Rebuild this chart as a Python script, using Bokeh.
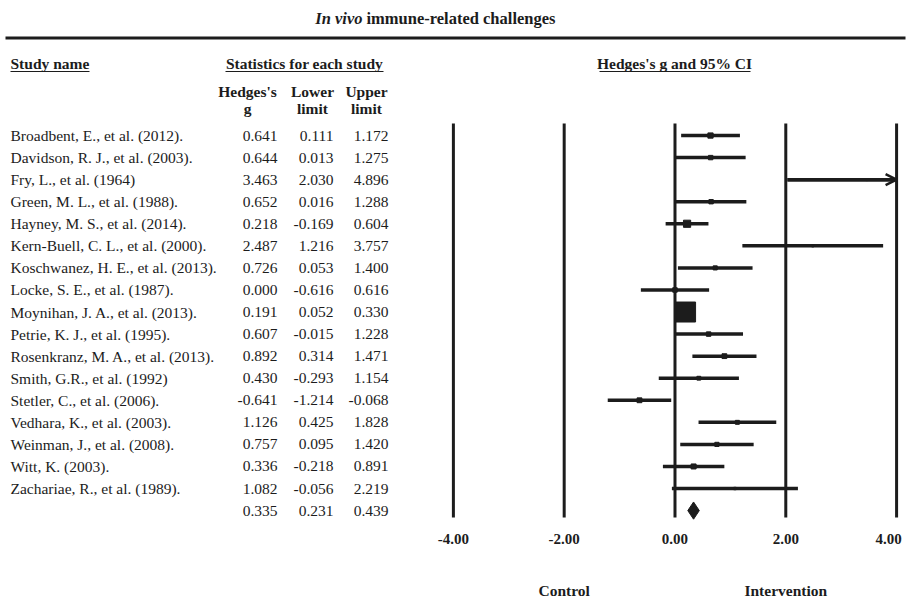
import numpy as np
from bokeh.plotting import figure
from bokeh.models import Range1d, Arrow, OpenHead, ColumnDataSource
from bokeh.core.properties import value
from bokeh.embed import file_html
from bokeh.resources import INLINE

# ---------------- data ----------------
studies = [
    "Broadbent, E., et al. (2012).",
    "Davidson, R. J., et al. (2003).",
    "Fry, L., et al. (1964)",
    "Green, M. L., et al. (1988).",
    "Hayney, M. S., et al. (2014).",
    "Kern-Buell, C. L., et al. (2000).",
    "Koschwanez, H. E., et al. (2013).",
    "Locke, S. E., et al. (1987).",
    "Moynihan, J. A., et al. (2013).",
    "Petrie, K. J., et al. (1995).",
    "Rosenkranz, M. A., et al. (2013).",
    "Smith, G.R., et al. (1992)",
    "Stetler, C., et al. (2006).",
    "Vedhara, K., et al. (2003).",
    "Weinman, J., et al. (2008).",
    "Witt, K. (2003).",
    "Zachariae, R., et al. (1989).",
]
hedges_g = [0.641, 0.644, 3.463, 0.652, 0.218, 2.487, 0.726, 0.000, 0.191,
            0.607, 0.892, 0.430, -0.641, 1.126, 0.757, 0.336, 1.082]
lower = [0.111, 0.013, 2.030, 0.016, -0.169, 1.216, 0.053, -0.616, 0.052,
         -0.015, 0.314, -0.293, -1.214, 0.425, 0.095, -0.218, -0.056]
upper = [1.172, 1.275, 4.896, 1.288, 0.604, 3.757, 1.400, 0.616, 0.330,
         1.228, 1.471, 1.154, -0.068, 1.828, 1.420, 0.891, 2.219]
summary_g, summary_lower, summary_upper = 0.335, 0.231, 0.439
ticks = [-4, -2, 0, 2, 4]
tick_labels = ["-4.00", "-2.00", "0.00", "2.00", "4.00"]
x_min, x_max = -4, 4

# ---------------- figure ----------------
W, H = 908, 599
SERIF = value("Liberation Serif")
INK = "#1c1c1c"

p = figure(width=W, height=H,
           x_range=Range1d(-12.175, 4.215), y_range=Range1d(21.03, -6.12),
           x_axis_type=None, y_axis_type=None,
           toolbar_location=None, output_backend="svg", min_border=0)
p.extra_x_ranges = {"px": Range1d(0, W)}
p.extra_y_ranges = {"py": Range1d(H, 0)}
p.outline_line_color = None
p.background_fill_color = "white"

def ptext(x, y, t, align="left", bold=True, italic=False, size="15.5px"):
    style = "bold italic" if (bold and italic) else ("bold" if bold else ("italic" if italic else "normal"))
    p.text(x=[x], y=[y], text=[t], x_range_name="px", y_range_name="py",
           text_font=SERIF, text_font_size=size, text_font_style=style,
           text_align=align, text_baseline="middle", text_color=INK)

def pline(x0, y0, x1, y1, w=1.2):
    p.segment(x0=[x0], y0=[y0], x1=[x1], y1=[y1], x_range_name="px",
              y_range_name="py", line_color=INK, line_width=w)

# title and rule
ptext(362, 18, "In vivo", align="right", italic=True, size="16.5px")
ptext(366, 18, "immune-related challenges", size="16.5px")
pline(5, 37.5, 905, 37.5, w=3)

# headers
ptext(10, 63, "Study name")
pline(10, 71, 89, 71)
ptext(304, 63, "Statistics for each study", align="center")
pline(225, 71, 383, 71)
ptext(674, 63, "Hedges's g and 95% CI", align="center")
pline(599, 71, 750, 71)
for cx, l1, l2 in [(247, "Hedges's", "g"), (312, "Lower", "limit"), (366, "Upper", "limit")]:
    ptext(cx, 91, l1, align="center")
    ptext(cx, 108, l2, align="center")

# table body
n = len(studies)
rows = list(range(n))
fmt = lambda v: f"{v:.3f}"
src = ColumnDataSource(dict(
    y=rows + [n],
    name=studies + [""],
    g=[fmt(v) for v in hedges_g] + [fmt(summary_g)],
    lo=[fmt(v) for v in lower] + [fmt(summary_lower)],
    up=[fmt(v) for v in upper] + [fmt(summary_upper)],
))
for col, xpos, align in [("name", 10, "left"), ("g", 277, "right"),
                         ("lo", 333, "right"), ("up", 388, "right")]:
    p.text(x=xpos, y="y", text=col, source=src, x_range_name="px",
           text_font=SERIF, text_font_size="15.5px", text_align=align,
           text_baseline="middle", text_color=INK)

# vertical reference lines and tick labels
p.segment(x0=ticks, y0=[123] * len(ticks), x1=ticks, y1=[517] * len(ticks),
          y_range_name="py", line_color=INK, line_width=3)
tick_offsets = [0, 0, 0, 0, -8]   # keep the last label inside the page
p.text(x=ticks, y=[538] * len(ticks), text=tick_labels, x_offset=tick_offsets,
       y_range_name="py",
       text_font=SERIF, text_font_size="15px", text_font_style="bold",
       text_align="center", text_baseline="middle", text_color=INK)
p.text(x=[-2, 2], y=[590, 590], text=["Control", "Intervention"], y_range_name="py",
       text_font=SERIF, text_font_size="15.5px", text_font_style="bold",
       text_align="center", text_baseline="middle", text_color=INK)

# confidence intervals
lo_arr = np.maximum(np.array(lower), x_min)
up_arr = np.minimum(np.array(upper), x_max)
p.segment(x0=lo_arr, y0=rows, x1=up_arr, y1=rows, line_color=INK, line_width=3.5)
for i in range(n):
    if upper[i] > x_max:
        p.add_layout(Arrow(end=OpenHead(size=11, line_width=2.5, line_color=INK),
                           x_start=lo_arr[i], y_start=i, x_end=x_max, y_end=i,
                           line_width=3.5, line_color=INK))

# point estimates: squares with area proportional to inverse-variance weight
se = (np.array(upper) - np.array(lower)) / 3.92
weight = 1.0 / se ** 2
sizes = 20.0 * np.sqrt(weight / weight.max())
p.scatter(x=hedges_g, y=rows, size=sizes, marker="square",
          fill_color=INK, line_color=INK)

# summary diamond
p.patch(x=[summary_lower, summary_g, summary_upper, summary_g],
        y=[n, n - 0.39, n, n + 0.39], fill_color=INK, line_color=INK, line_width=1)

open("out.html", "w").write(file_html(p, INLINE))
